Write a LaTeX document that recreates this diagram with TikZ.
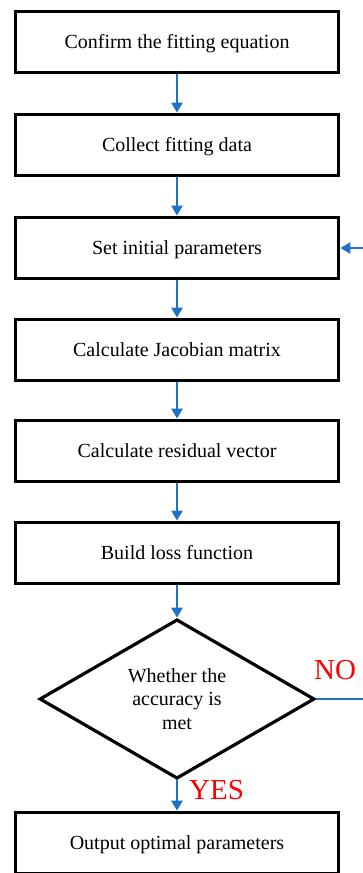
\documentclass[tikz,border=0pt]{standalone}
\usepackage{fontspec}
\setmainfont{Liberation Serif}
\usetikzlibrary{shapes.geometric,arrows.meta}
\definecolor{flowblue}{RGB}{30,115,200}
\begin{document}
\begin{tikzpicture}[x=1pt,y=-1pt,
  stepbox/.style={draw=black,line width=3.8pt,minimum width=323pt,minimum height=61pt,inner sep=0pt,text height=14pt,text depth=2pt,font=\fontsize{20}{24}\selectfont},
  decide/.style={draw=black,line width=3.2pt,diamond,minimum width=275pt,minimum height=149pt,inner sep=0pt,align=center,font=\fontsize{20}{23.5}\selectfont},
  flow/.style={draw=flowblue,line width=2.8pt,-{Triangle[length=10pt,width=11pt]}},
  lbl/.style={text=red,font=\fontsize{29}{31}\selectfont,inner sep=0pt}]
\useasboundingbox (0,0) rectangle (363,873);
\node[stepbox] (b1) at (177,42) {Confirm the fitting equation};
\node[stepbox] (b2) at (177,145) {Collect fitting data};
\node[stepbox] (b3) at (177,248) {Set initial parameters};
\node[stepbox] (b4) at (177,350) {Calculate Jacobian matrix};
\node[stepbox] (b5) at (177,451) {Calculate residual vector};
\node[stepbox] (b6) at (177,553) {Build loss function};
\node[decide] (d) at (177,699) {Whether the\\accuracy is\\met};
\node[stepbox] (b7) at (177,843) {Output optimal parameters};
\coordinate (nr) at (366,699);
\coordinate (ir) at (366,248);
\draw[flow] (b1) -- (b2);
\draw[flow] (b2) -- (b3);
\draw[flow] (b3) -- (b4);
\draw[flow] (b4) -- (b5);
\draw[flow] (b5) -- (b6);
\draw[flow] (b6) -- (d.north);
\draw[flow] (d.south) -- (b7);
\draw[flow] (ir) -- (b3.east);
\draw[draw=flowblue,line width=2.8pt] (d.east) -- (nr);
\node[lbl,anchor=base west] (no) at (314,679) {NO};
\node[lbl,anchor=base west] (yes) at (189,799) {YES};
\end{tikzpicture}
\end{document}
